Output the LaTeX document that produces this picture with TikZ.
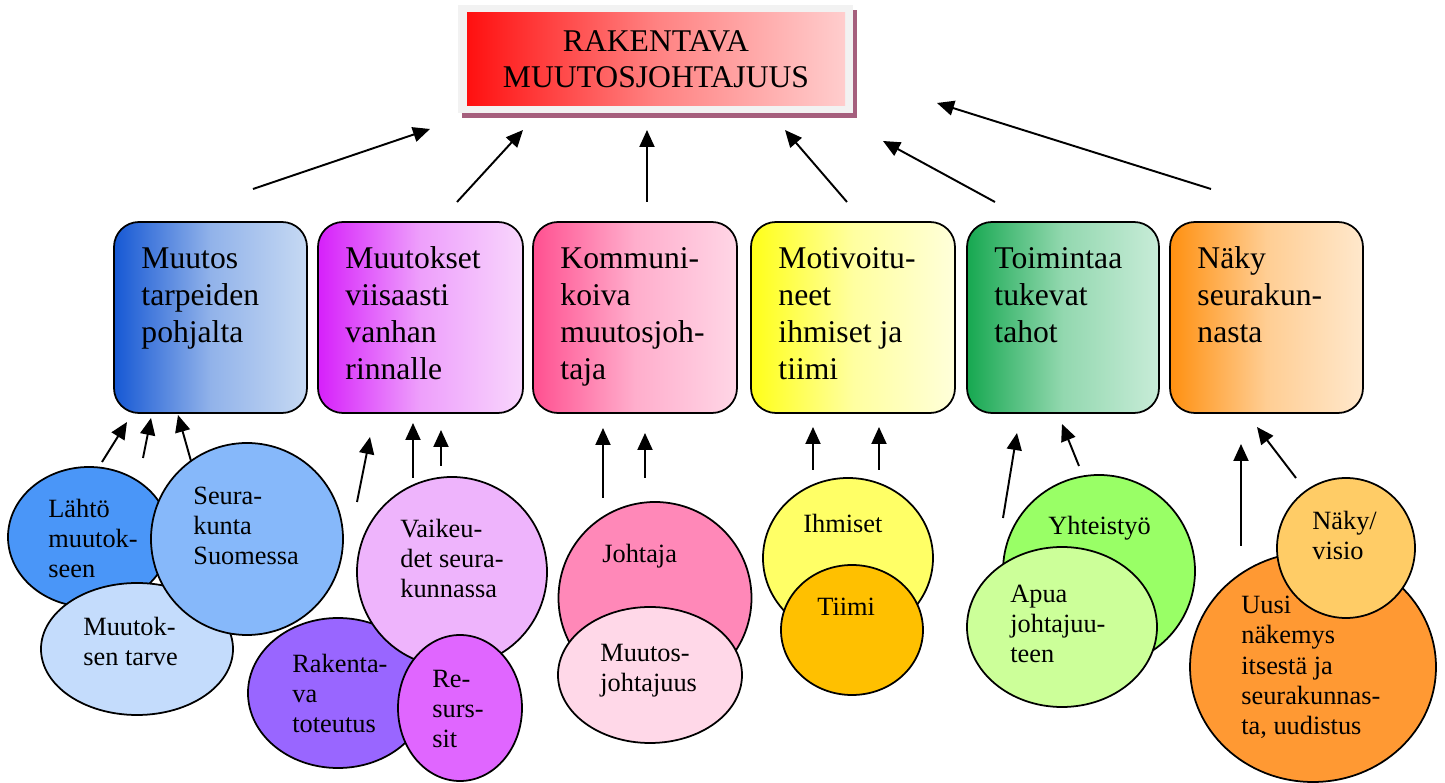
\documentclass[tikz,border=0pt]{standalone}
\usepackage{fontspec}
\setmainfont{Liberation Serif}
\usetikzlibrary{arrows.meta,shapes.geometric,positioning,shadows}

\newcommand\Pix{0.02cm}

\definecolor{harmaa}{RGB}{242,242,242}
\definecolor{varjo}{RGB}{165,95,125}
\definecolor{punA}{RGB}{255,16,16}
\definecolor{punB}{RGB}{255,205,205}
\definecolor{sinA}{RGB}{22,88,212}
\definecolor{sinB}{RGB}{198,217,243}
\definecolor{vioA}{RGB}{214,32,250}
\definecolor{vioB}{RGB}{248,214,252}
\definecolor{rooA}{RGB}{255,80,144}
\definecolor{rooB}{RGB}{255,214,230}
\definecolor{kelA}{RGB}{255,255,24}
\definecolor{kelB}{RGB}{255,255,218}
\definecolor{vihA}{RGB}{22,168,80}
\definecolor{vihB}{RGB}{200,236,216}
\definecolor{orA}{RGB}{255,144,16}
\definecolor{orB}{RGB}{255,232,204}

\tikzset{
  laatikko/.style={
    shape = rectangle,
    rounded corners = 0.5cm,
    draw,
    line width = 1pt,
    minimum height = 191*\Pix,
    inner sep = 0
  },
  kupla/.style={
    shape = ellipse,
    draw,
    line width = 1pt,
    inner sep = 0
  },
  % base = viimeisen rivin perusviiva
  otsake/.style={
    font = \fontsize{18}{21}\selectfont,
    align = left,
    anchor = base west,
    inner sep = 0
  },
  teksti/.style={
    font = \fontsize{15}{17.3}\selectfont,
    align = left,
    anchor = base west,
    inner sep = 0
  },
  nuoli/.style={
    -{Triangle[length=0.34cm,width=0.3cm]},
    line width = 1.1pt
  }
}

\begin{document}
\begin{tikzpicture}[x=0.02cm,y=-0.02cm]
  \useasboundingbox (0,0) rectangle (1445,783);

  % otsikko
  \node[fill=harmaa, minimum width=395*\Pix, minimum height=108*\Pix,
        general shadow={shadow xshift=0.08cm, shadow yshift=-0.1cm, fill=varjo}]
        (kehys) at (655.5,59) {};
  \node[left color=punA, right color=punB, middle color=punB!60!punA,
        minimum width=378*\Pix, minimum height=93*\Pix, inner sep=0,
        font=\fontsize{18}{20.5}\selectfont, align=center]
        (otsikko) at (656,59.5) {RAKENTAVA\\MUUTOSJOHTAJUUS};

  % laatikot
  \node[laatikko, minimum width=193*\Pix, left color=sinA, right color=sinB, middle color=sinB!70!sinA] (b1) at (210.5,317.5) {};
  \node[laatikko, minimum width=205*\Pix, left color=vioA, right color=vioB, middle color=vioB!70!vioA] (b2) at (420.5,317.5) {};
  \node[laatikko, minimum width=204*\Pix, left color=rooA, right color=rooB, middle color=rooB!70!rooA] (b3) at (635,317.5) {};
  \node[laatikko, minimum width=204*\Pix, left color=kelA, right color=kelB, middle color=kelB!70!kelA] (b4) at (853,317.5) {};
  \node[laatikko, minimum width=192*\Pix, left color=vihA, right color=vihB, middle color=vihB!70!vihA] (b5) at (1063,317.5) {};
  \node[laatikko, minimum width=193*\Pix, left color=orA, right color=orB, middle color=orB!70!orA] (b6) at (1266.5,317.5) {};

  \node[otsake] (t1) at ([shift={(28,121)}]b1.north west) {Muutos\\tarpeiden\\pohjalta};
  \node[otsake] (t2) at ([shift={(28,158)}]b2.north west) {Muutokset\\viisaasti\\vanhan\\rinnalle};
  \node[otsake] (t3) at ([shift={(28,158)}]b3.north west) {Kommuni-\\koiva\\muutosjoh-\\taja};
  \node[otsake] (t4) at ([shift={(28,158)}]b4.north west) {Motivoitu-\\neet\\ihmiset ja\\tiimi};
  \node[otsake] (t5) at ([shift={(28,121)}]b5.north west) {Toimintaa\\tukevat\\tahot};
  \node[otsake] (t6) at ([shift={(28,121)}]b6.north west) {Näky\\seurakun-\\nasta};

  % kuplat
  \node[kupla, fill={rgb,255:red,74;green,150;blue,248}, minimum width=162*\Pix, minimum height=140*\Pix] (lahto) at (89,537) {};
  \node[teksti] (lahtoT) at (48,578) {Lähtö\\muutok-\\seen};
  \node[kupla, fill={rgb,255:red,196;green,220;blue,252}, minimum width=192*\Pix, minimum height=132*\Pix] (tarve) at (137,649) {};
  \node[teksti] (tarveT) at (83,666) {Muutok-\\sen tarve};
  \node[kupla, fill={rgb,255:red,134;green,184;blue,250}, minimum width=192*\Pix, minimum height=192*\Pix] (seura) at (247,539) {};
  \node[teksti] (seuraT) at (193,565) {Seura-\\kunta\\Suomessa};

  \node[kupla, fill={rgb,255:red,153;green,102;blue,255}, minimum width=180*\Pix, minimum height=150*\Pix] (rakenta) at (338,693) {};
  \node[teksti] (rakentaT) at (292,733) {Rakenta-\\va\\toteutus};
  \node[kupla, fill={rgb,255:red,238;green,180;blue,252}, minimum width=190*\Pix, minimum height=190*\Pix] (vaikeu) at (452,572) {};
  \node[teksti] (vaikeuT) at (400,598) {Vaikeu-\\det seura-\\kunnassa};
  \node[kupla, fill={rgb,255:red,224;green,102;blue,255}, minimum width=124*\Pix, minimum height=146*\Pix] (resurssit) at (460,708) {};
  \node[teksti] (resurssitT) at (432,748) {Re-\\surs-\\sit};

  \node[kupla, fill={rgb,255:red,255;green,136;blue,184}, minimum width=193*\Pix, minimum height=192*\Pix] (johtaja) at (655,598) {};
  \node[teksti] (johtajaT) at (602,563) {Johtaja};
  \node[kupla, fill={rgb,255:red,255;green,216;blue,232}, minimum width=184*\Pix, minimum height=136*\Pix] (mjohto) at (650,675) {};
  \node[teksti] (mjohtoT) at (600,692) {Muutos-\\johtajuus};

  \node[kupla, fill={rgb,255:red,255;green,255;blue,102}, minimum width=170*\Pix, minimum height=160*\Pix] (ihmiset) at (848,558) {};
  \node[teksti] (ihmisetT) at (803,533) {Ihmiset};
  \node[kupla, fill={rgb,255:red,255;green,192;blue,0}, minimum width=142*\Pix, minimum height=130*\Pix] (tiimi) at (852,630) {};
  \node[teksti] (tiimiT) at (817,616) {Tiimi};

  \node[kupla, fill={rgb,255:red,153;green,255;blue,102}, minimum width=192*\Pix, minimum height=192*\Pix] (yhteis) at (1099,571) {};
  \node[teksti] (yhteisT) at (1048,535) {Yhteistyö};
  \node[kupla, fill={rgb,255:red,204;green,255;blue,153}, minimum width=190*\Pix, minimum height=160*\Pix] (apua) at (1062,627) {};
  \node[teksti] (apuaT) at (1010,663) {Apua\\johtajuu-\\teen};

  \node[kupla, fill={rgb,255:red,255;green,153;blue,51}, minimum width=246*\Pix, minimum height=230*\Pix] (uusi) at (1313,667) {};
  \node[teksti] (uusiT) at (1241,735) {Uusi\\näkemys\\itsestä ja\\seurakunnas-\\ta, uudistus};
  \node[kupla, fill={rgb,255:red,255;green,204;blue,102}, minimum width=138*\Pix, minimum height=140*\Pix] (naky) at (1346,548) {};
  \node[teksti] (nakyT) at (1312,560) {Näky/\\visio};

  % nuolet
  \foreach \i/\ax/\ay/\bx/\by in {
      1/253/189/430/129, 2/457/202/523/130, 3/647/202/647/130,
      4/847/202/785/130, 5/995/202/883/141, 6/1211/189/937/103,
      7/102/462/127/422, 8/143/458/151/418, 9/191/461/178/415,
      10/357/502/370/437, 11/413/478/413/423, 12/441/466/441/430,
      13/603/498/603/428, 14/645/478/645/433, 15/813/470/813/427,
      16/879/470/879/427, 17/1003/518/1017/433, 18/1079/466/1062/424,
      19/1241/546/1241/444, 20/1296/478/1257/427}{
    \coordinate (ala\i) at (\ax,\ay);
    \coordinate (yla\i) at (\bx,\by);
    \draw[nuoli] (ala\i) -- (yla\i);
  }
\end{tikzpicture}
\end{document}
